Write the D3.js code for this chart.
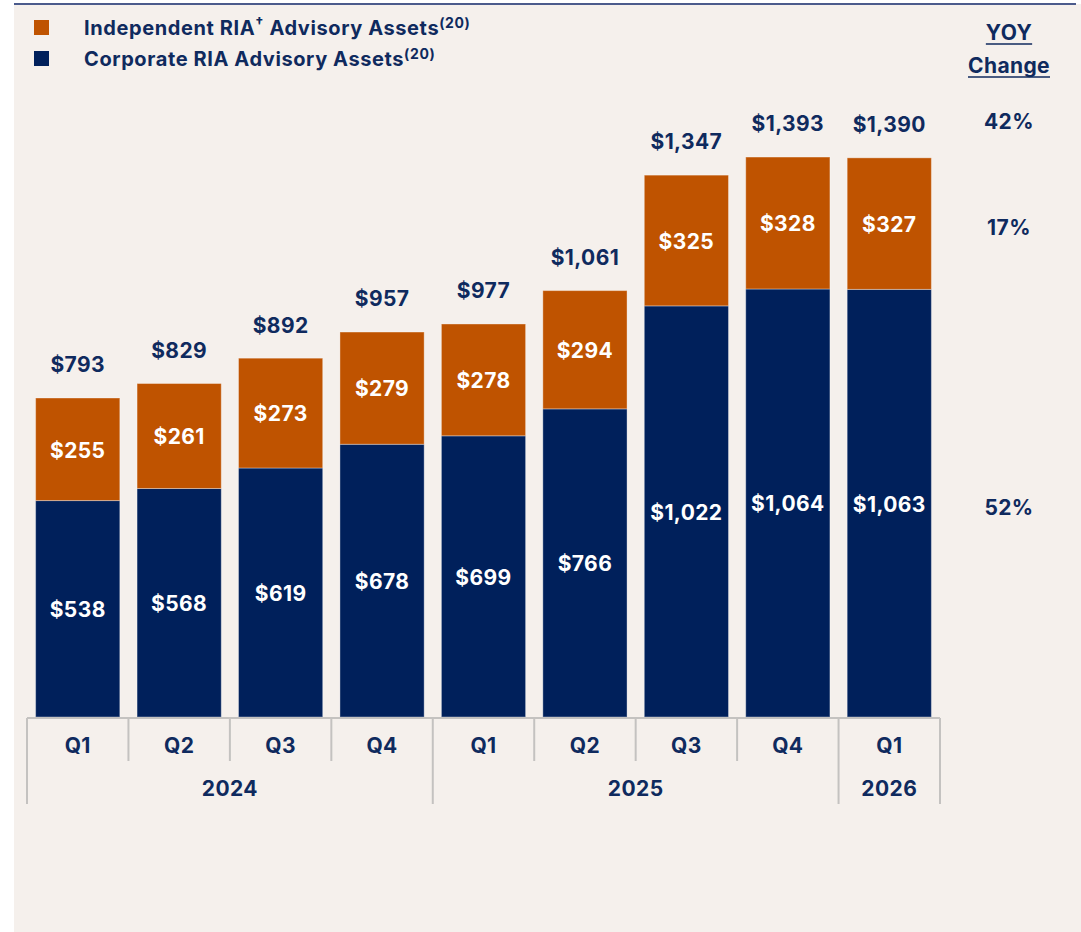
<!DOCTYPE html>
<html>
<head>
<meta charset="utf-8">
<script src="https://cdn.jsdelivr.net/npm/d3@7"></script>
<style>
  body { margin: 0; background: #fff; }
  text { font-family: Inter, "Open Sans", "DejaVu Sans", sans-serif; font-weight: 700; letter-spacing: 0.4px; }
</style>
</head>
<body>
<svg id="chart" width="1081" height="932"></svg>
<script>
// data
const quarters = ["Q1", "Q2", "Q3", "Q4", "Q1", "Q2", "Q3", "Q4", "Q1"];
const years = ["2024", "2024", "2024", "2024", "2025", "2025", "2025", "2025", "2026"];
const corporate = [538, 568, 619, 678, 699, 766, 1022, 1064, 1063];
const independent = [255, 261, 273, 279, 278, 294, 325, 328, 327];
const totals = [793, 829, 892, 957, 977, 1061, 1347, 1393, 1390];
const yoy = ["42%", "17%", "52%"];

const navy = "#00205b", orange = "#bf5300", textNavy = "#0f2a5e";

const svg = d3.select("#chart");

// panel background + top rule
svg.append("rect").attr("x", 14).attr("y", 4).attr("width", 1067).attr("height", 928).attr("fill", "#f5f0ec");
svg.append("line").attr("x1", 14).attr("x2", 1076).attr("y1", 4).attr("y2", 4)
    .attr("stroke", "#4b5b8c").attr("stroke-width", 2);

const idx = d3.range(quarters.length);
const x = d3.scaleBand().domain(idx).range([27, 940]).paddingInner(0.17).paddingOuter(0.085);
const y = d3.scaleLinear().domain([0, 793]).range([717, 398]);

const rows = idx.map(i => ({i, corp: corporate[i], ind: independent[i], total: totals[i]}));
const stack = d3.stack().keys(["corp", "ind"])(rows);
const colors = {corp: navy, ind: orange};

const g = svg.append("g");
stack.forEach(layer => {
  g.selectAll(null).data(layer).join("rect")
    .attr("x", d => x(d.data.i))
    .attr("width", x.bandwidth())
    .attr("y", d => y(d[1]))
    .attr("height", d => y(d[0]) - y(d[1]))
    .attr("fill", colors[layer.key])
    .attr("stroke", "rgba(255,255,255,0.35)")
    .attr("stroke-width", 1);

  g.selectAll(null).data(layer).join("text")
    .attr("x", d => x(d.data.i) + x.bandwidth() / 2)
    .attr("y", d => (y(d[0]) + y(d[1])) / 2 + 1)
    .attr("dy", "0.35em")
    .attr("text-anchor", "middle")
    .attr("fill", "#fff")
    .attr("font-size", 21)
    .text(d => d3.format("$,")(d.data[layer.key]));
});

// totals above
g.selectAll(null).data(rows).join("text")
  .attr("x", d => x(d.i) + x.bandwidth() / 2)
  .attr("y", d => y(d.total) - 33)
  .attr("dy", "0.35em")
  .attr("text-anchor", "middle")
  .attr("fill", textNavy)
  .attr("font-size", 21)
  .text(d => d3.format("$,")(d.total));

// category axis (two levels)
const axis = svg.append("g");
const step = x.step();
const left = d => x(d) - x.paddingInner() * step / 2;
axis.append("line").attr("x1", 27).attr("x2", 940).attr("y1", 718).attr("y2", 718)
  .attr("stroke", "#c4c2c0").attr("stroke-width", 2);

const yearStarts = idx.filter(i => i === 0 || years[i] !== years[i - 1]);
idx.concat([quarters.length]).forEach(i => {
  const xx = i < quarters.length ? left(i) : 940;
  const full = yearStarts.includes(i) || i === quarters.length;
  axis.append("line").attr("x1", xx).attr("x2", xx).attr("y1", 718).attr("y2", full ? 804 : 761)
    .attr("stroke", "#c4c2c0").attr("stroke-width", 2);
});
axis.selectAll(null).data(idx).join("text")
  .attr("x", i => x(i) + x.bandwidth() / 2)
  .attr("y", 746).attr("dy", "0.35em")
  .attr("text-anchor", "middle").attr("fill", textNavy).attr("font-size", 21)
  .text(i => quarters[i]);
const yearGroups = d3.groups(idx, i => years[i]);
axis.selectAll(null).data(yearGroups).join("text")
  .attr("x", d => (left(d[1][0]) + (d[1][d[1].length - 1] + 1 < quarters.length ? left(d[1][d[1].length - 1] + 1) : 940)) / 2)
  .attr("y", 789).attr("dy", "0.35em")
  .attr("text-anchor", "middle").attr("fill", textNavy).attr("font-size", 21)
  .text(d => d[0]);

// legend
const legend = svg.append("g");
const legendItems = [
  {color: orange, label: "Independent RIA", dagger: true},
  {color: navy, label: "Corporate RIA Advisory Assets", dagger: false}
];
legendItems.forEach((d, k) => {
  const ly = 28 + k * 31;
  legend.append("rect").attr("x", 34).attr("y", ly - 8).attr("width", 15).attr("height", 15).attr("fill", d.color);
  const t = legend.append("text").attr("x", 84).attr("y", ly + 7)
    .attr("fill", textNavy).attr("font-size", 20).style("letter-spacing", "0.6px");
  t.append("tspan").text(d.label);
  if (d.dagger) {
    t.append("tspan").attr("font-size", 14).attr("y", ly).text("†");
    t.append("tspan").attr("y", ly + 7).attr("font-size", 20).text(" Advisory Assets");
  }
  t.append("tspan").attr("font-size", 14).attr("y", ly).text("(20)");
});

// YOY column
const yoyG = svg.append("g");
const cx = 1009;
[["YOY", 33], ["Change", 66]].forEach(([s, yy]) => {
  const t = yoyG.append("text").attr("x", cx).attr("y", yy).attr("dy", "0.35em")
    .attr("text-anchor", "middle").attr("fill", textNavy).attr("font-size", 21).text(s);
  const w = t.node().getComputedTextLength();
  yoyG.append("line").attr("x1", cx - w / 2).attr("x2", cx + w / 2)
    .attr("y1", yy + 11).attr("y2", yy + 11).attr("stroke", textNavy).attr("stroke-width", 1.5);
});
const last = rows[rows.length - 1];
const yoyY = [y(last.total) - 36, y(last.total - last.ind / 2) + 4, y(last.corp / 2) + 4];
yoyG.selectAll(null).data(yoy).join("text")
  .attr("x", cx).attr("y", (d, k) => yoyY[k]).attr("dy", "0.35em")
  .attr("text-anchor", "middle").attr("fill", textNavy).attr("font-size", 21)
  .text(d => d);
</script>
</body>
</html>
